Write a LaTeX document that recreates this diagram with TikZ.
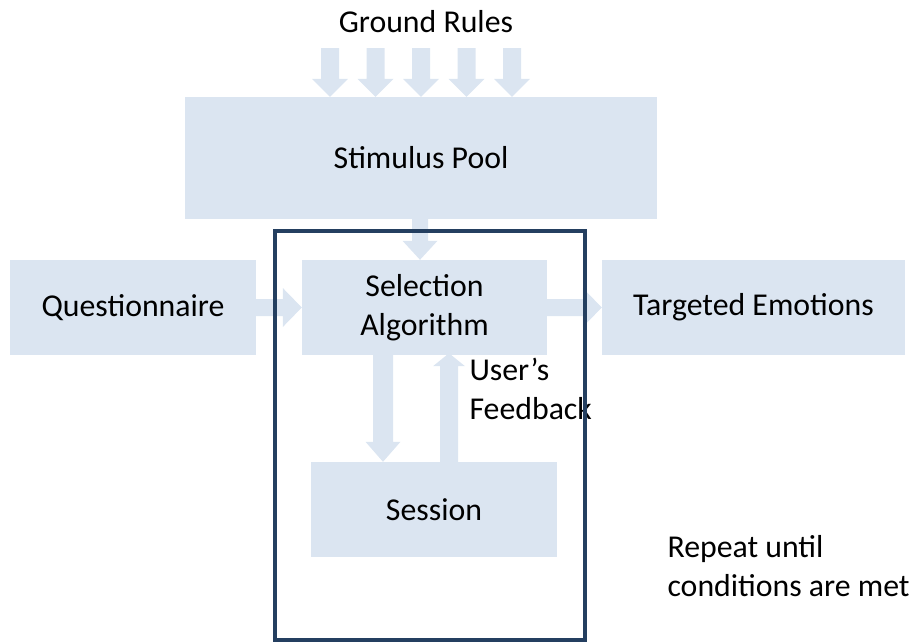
\documentclass[tikz,border=0pt]{standalone}
\usepackage{fontspec}
\setmainfont{Carlito}
\usetikzlibrary{calc}
\definecolor{boxfill}{RGB}{219,229,241}
\definecolor{framec}{RGB}{36,63,96}
% #1 from, #2 to, #3 half shaft, #4 half head, #5 head length
\newcommand{\blockarr}[5]{%
  \path ($(#2)!#5!(#1)$) coordinate (bh);
  \fill[arrowfill] ($(#1)!#3!90:(#2)$) -- ($(bh)!#3!-90:(#1)$) -- ($(bh)!#4!-90:(#1)$) -- (#2)
    -- ($(bh)!#4!90:(#1)$) -- ($(bh)!#3!90:(#1)$) -- ($(#1)!#3!-90:(#2)$) -- cycle;}
\begin{document}
\begin{tikzpicture}[x=1pt,y=-1pt,
  every node/.style={font=\fontsize{31.8}{38.5}\selectfont, text=black},
  box/.style={fill=boxfill, inner sep=0pt, align=center},
  arrowfill/.style={fill=boxfill}]
\useasboundingbox (0,0) rectangle (917,643);
\node (ground) at (426,22) {Ground Rules};
\node[box, minimum width=472pt, minimum height=122pt] (pool) at (421,158) {Stimulus Pool};
\node[box, minimum width=245pt, minimum height=95pt] (sel) at (424.5,307.5) {Selection\\Algorithm};
\node[box, minimum width=246pt, minimum height=95pt] (quest) at (133,307.5) {Questionnaire};
\node[box, minimum width=303pt, minimum height=95pt] (targ) at (753.5,307.5) {Targeted Emotions};
\node[box, minimum width=246pt, minimum height=95pt] (sess) at (434,509.5) {Session};
\node[align=left, anchor=west] (fb) at (466,389) {User’s\\Feedback};
\node[align=left, anchor=west] (rep) at (664,566) {Repeat until\\conditions are met};
% ground rule arrows
\foreach \i/\x in {1/330,2/375.5,3/421,4/466.5,5/512}{
  \coordinate (g\i) at (\x,48);
  \coordinate (t\i) at (g\i |- pool.north);
  \blockarr{g\i}{t\i}{9pt}{18pt}{18pt}
}
% pool -> selection
\coordinate (ps) at ($(pool.south)+(-1,0)$);
\coordinate (pe) at (ps |- sel.north);
\blockarr{ps}{pe}{8pt}{17.5pt}{19pt}
% questionnaire -> selection
\blockarr{quest.east}{sel.west}{8.5pt}{19.5pt}{19pt}
% selection -> targeted
\blockarr{sel.east}{targ.west}{8.5pt}{19.5pt}{19pt}
% selection -> session
\coordinate (d1) at ($(sel.south)+(-41.5,0)$);
\coordinate (d2) at (d1 |- sess.north);
\blockarr{d1}{d2}{10pt}{17.5pt}{20pt}
% session -> selection (feedback)
\coordinate (u1) at ($(sess.north)+(15,0)$);
\coordinate (u2) at ($(u1 |- sel.south)+(0,-2)$);
\blockarr{u1}{u2}{9pt}{16pt}{13pt}
% frame
\node[draw=framec, line width=4.5pt, minimum width=310pt, minimum height=409pt, inner sep=0pt] (frame) at (430,435.5) {};
\end{tikzpicture}
\end{document}
